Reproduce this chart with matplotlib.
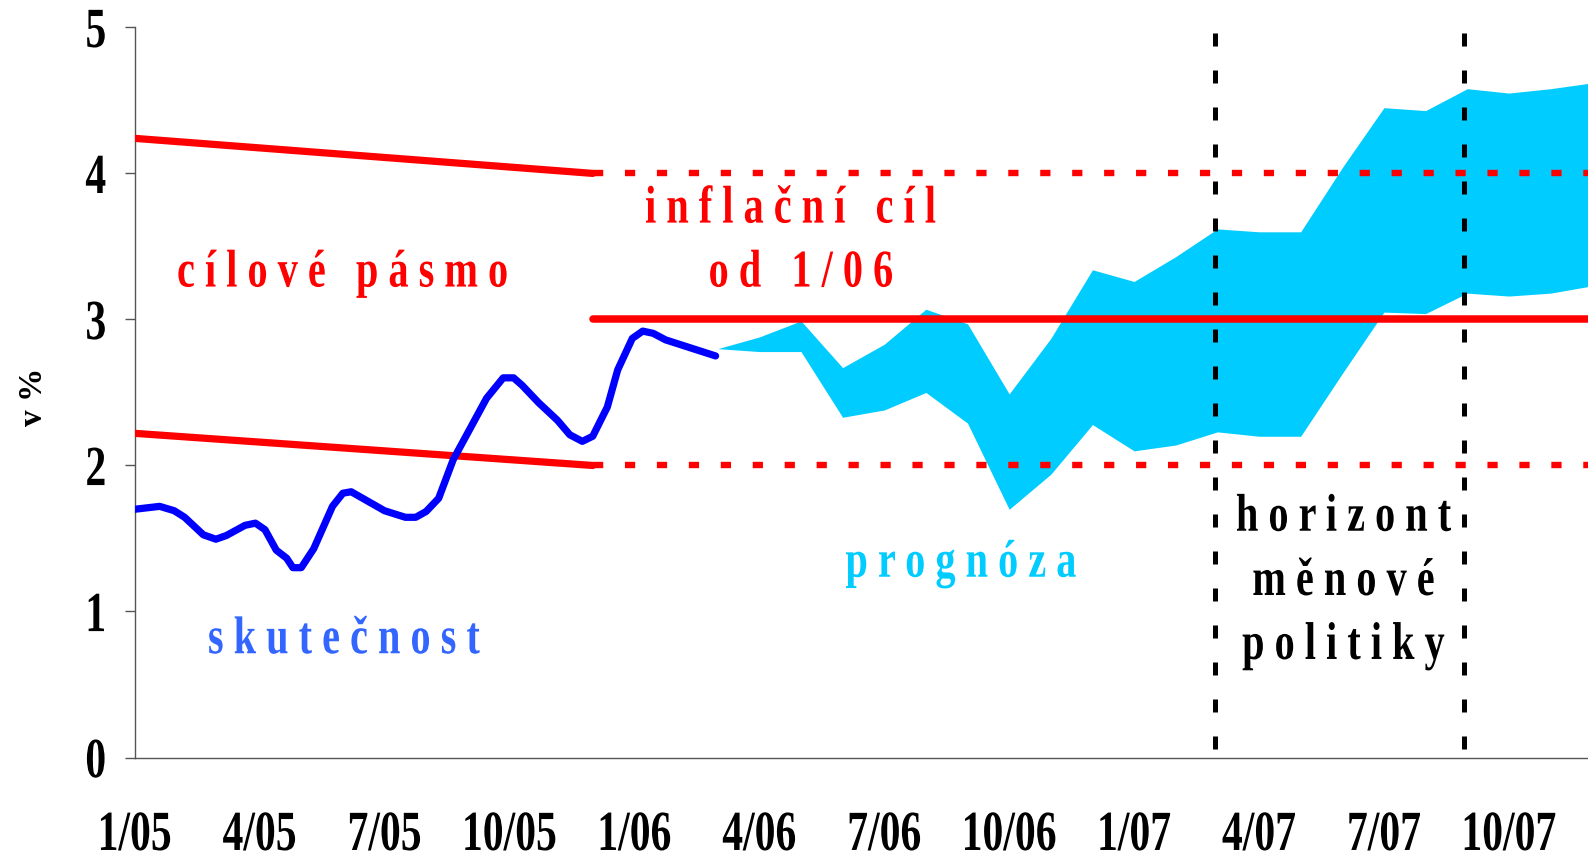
import matplotlib
matplotlib.use('Agg')
import matplotlib.pyplot as plt
from matplotlib.patheffects import AbstractPathEffect
from matplotlib.transforms import Affine2D

# months counted from 1/05 (0 = 1/05)
act_m = [0.0, 0.6, 0.95, 1.2, 1.65, 1.95, 2.2, 2.65, 2.9, 3.13, 3.4, 3.65, 3.8, 4.0,
         4.3, 4.75, 5.0, 5.2, 6.0, 6.5, 6.75, 7.0, 7.3, 7.65, 8.45, 8.85, 9.1, 9.3,
         9.7, 10.15, 10.45, 10.75, 11.0, 11.35, 11.6, 11.95, 12.2, 12.45, 12.75, 13.95]
act_v = [1.70, 1.72, 1.69, 1.645, 1.525, 1.495, 1.52, 1.59, 1.605, 1.56, 1.42, 1.365, 1.30, 1.30,
         1.43, 1.72, 1.81, 1.82, 1.69, 1.645, 1.645, 1.685, 1.775, 2.04, 2.46, 2.60, 2.60, 2.55,
         2.43, 2.31, 2.21, 2.165, 2.20, 2.40, 2.655, 2.87, 2.92, 2.905, 2.86, 2.75]

fc_m = list(range(14, 36))
fc_hi = [2.80, 2.88, 2.99, 2.67, 2.83, 3.07, 2.97, 2.49, 2.87, 3.34, 3.26, 3.43, 3.62, 3.60,
         3.60, 4.04, 4.45, 4.43, 4.58, 4.55, 4.58, 4.62]
fc_lo = [2.80, 2.78, 2.78, 2.33, 2.38, 2.50, 2.29, 1.70, 1.94, 2.28, 2.10, 2.14, 2.23, 2.20,
         2.20, 2.63, 3.05, 3.04, 3.18, 3.16, 3.18, 3.23]

# old declining band until 12/05, then target 3 % +-1 pp
band_m = [0, 11]
band_hi = [4.24, 4.0]
band_lo = [2.22, 2.0]
target_m = [11, 35]
target = [3, 3]
target_hi = [4, 4]
target_lo = [2, 2]

horizon = [25.95, 31.93]

tick_m = [0, 3, 6, 9, 12, 15, 18, 21, 24, 27, 30, 33]
tick_lab = ['1/05', '4/05', '7/05', '10/05', '1/06', '4/06', '7/06', '10/06',
            '1/07', '4/07', '7/07', '10/07']


class Stretch(AbstractPathEffect):
    # the original picture is stretched vertically, so stretch the glyphs too
    def __init__(self, sy=1.33, mid=0):
        super().__init__()
        self.sy = sy
        self.mid = mid

    def draw_path(self, renderer, gc, tpath, affine, rgbFace=None):
        t = Affine2D().translate(0, -self.mid).scale(1, self.sy).translate(0, self.mid) + affine
        renderer.draw_path(gc, tpath, t, rgbFace)


def spaced(s):
    return ' '.join(s)


plt.rcParams['font.family'] = 'Liberation Serif'
plt.rcParams['font.weight'] = 'bold'

fig = plt.figure(figsize=(15.88, 8.55), dpi=100)
ax = fig.add_axes([0.0848, 0.114, 0.9152, 0.854])

ax.fill_between(fc_m, fc_lo, fc_hi, color='#00CCFF', lw=0, zorder=1)

dots = (0, (1.6, 3.4))
ax.plot(band_m, band_hi, color='red', lw=5.2, solid_capstyle='round', zorder=3)
ax.plot(band_m, band_lo, color='red', lw=5.2, solid_capstyle='round', zorder=3)
ax.plot(target_m, target, color='red', lw=5.4, solid_capstyle='round', zorder=3)
ax.plot(target_m, target_hi, color='red', lw=4.6, ls=dots, dash_capstyle='butt', zorder=3)
ax.plot(target_m, target_lo, color='red', lw=4.6, ls=dots, dash_capstyle='butt', zorder=3)

for h in horizon:
    ax.axvline(h, ymin=0.012, ymax=1, color='black', lw=3.6, ls=(0, (2.6, 4.8)),
               dash_capstyle='butt', zorder=4)

ax.plot(act_m, act_v, color='#0000FF', lw=5.2, solid_capstyle='round',
        solid_joinstyle='round', zorder=5)

st = [Stretch(1.32, 0)]
fs = 29
ax.text(5.0, 3.225, spaced('cílové pásmo'), color='red', fontsize=fs, ha='center',
        va='baseline', path_effects=st, zorder=6)
ax.text(15.76, 3.663, spaced('inflační cíl'), color='red', fontsize=fs, ha='center',
        va='baseline', path_effects=st, zorder=6)
ax.text(16.0, 3.225, spaced('od 1/06'), color='red', fontsize=fs, ha='center',
        va='baseline', path_effects=st, zorder=6)
ax.text(5.03, 0.714, spaced('skutečnost'), color='#3366FF', fontsize=fs, ha='center',
        va='baseline', path_effects=st, zorder=6)
ax.text(19.84, 1.238, spaced('prognóza'), color='#00CCFF', fontsize=fs, ha='center',
        va='baseline', path_effects=st, zorder=6)
for word, yv in zip(['horizont', 'měnové', 'politiky'], [1.553, 1.113, 0.675]):
    ax.text(29.03, yv, spaced(word), color='black', fontsize=fs, ha='center',
            va='baseline', path_effects=st, zorder=6)

ax.set_xlim(0, 34.9)
ax.set_ylim(0, 5)
ax.set_xticks(tick_m)
ax.set_xticklabels(tick_lab)
ax.set_yticks([0, 1, 2, 3, 4, 5])
ax.tick_params(axis='x', length=0, pad=42, labelsize=30)
ax.tick_params(axis='y', length=7.2, width=1, color='#555555', pad=13.3, labelsize=30)
for lab in ax.get_xticklabels() + ax.get_yticklabels():
    lab.set_path_effects([Stretch(1.36, 34)])

for side in ['top', 'right']:
    ax.spines[side].set_visible(False)
for side in ['left', 'bottom']:
    ax.spines[side].set_color('#555555')
    ax.spines[side].set_linewidth(1)

ax.text(-0.0697, 0.494, 'v %', transform=ax.transAxes, rotation=90, fontsize=24,
        ha='center', va='center')

fig.savefig('out.png', dpi=100)
